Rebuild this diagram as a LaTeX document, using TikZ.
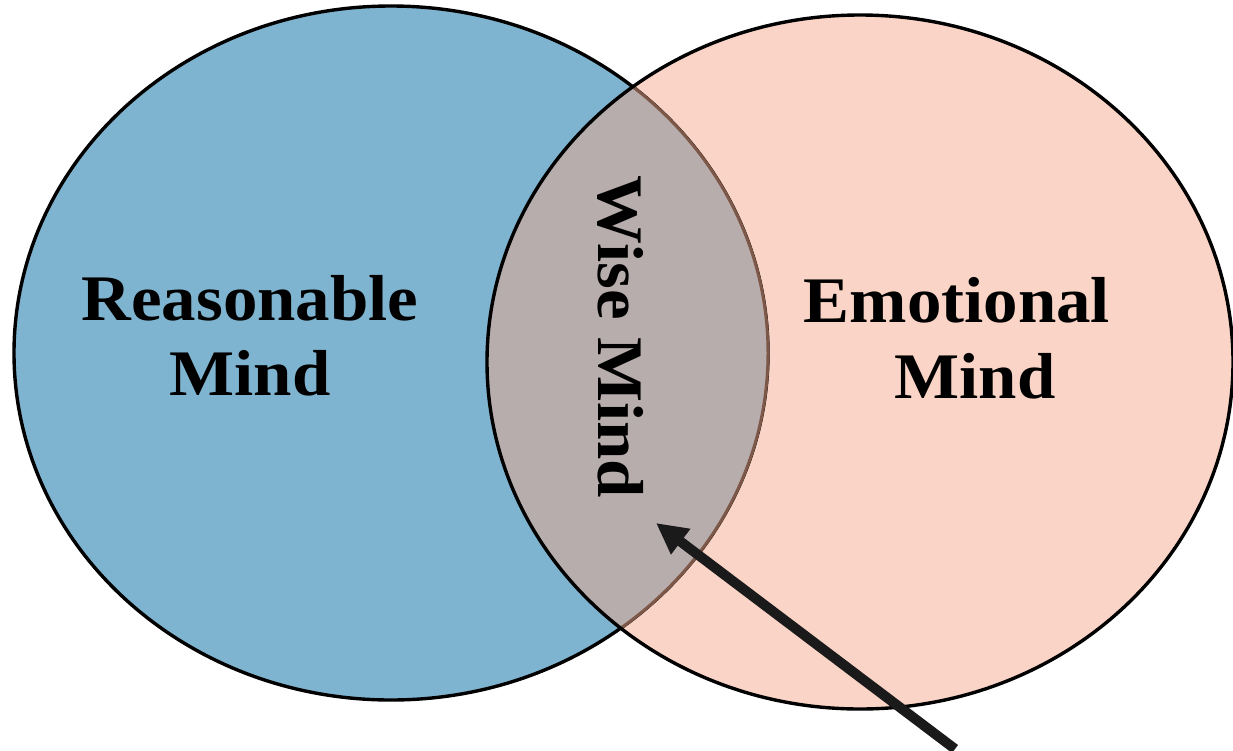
\documentclass[tikz,border=0pt]{standalone}
\usepackage{fontspec}
\setmainfont{Liberation Serif}
\usetikzlibrary{arrows.meta}
\definecolor{blueM}{RGB}{127,180,208}
\definecolor{pinkM}{RGB}{250,212,198}
\definecolor{grayM}{RGB}{184,173,173}
\definecolor{brownM}{RGB}{125,88,72}
\definecolor{arrowM}{RGB}{26,26,26}
\newcommand{\widenlbl}[1]{\scalebox{1.06}[1]{#1}}
\tikzset{
  lbl/.style={font=\bfseries\fontsize{65}{75}\selectfont, inner sep=0pt, anchor=base, text=black},
  rim/.style={line width=3.4pt},
}
\begin{document}
\begin{tikzpicture}[x=1pt,y=-1pt]
\useasboundingbox (0,0) rectangle (1233,750);
% fills
\fill[blueM] (391,353) ellipse [x radius=377, y radius=347];
\fill[pinkM] (860,362) ellipse [x radius=373, y radius=347];
\draw[rim,black] (391,353) ellipse [x radius=377, y radius=347];
\begin{scope}
  \clip (860,362) ellipse [x radius=373, y radius=347];
  \fill[grayM] (391,353) ellipse [x radius=377, y radius=347];
  \draw[line width=3pt,brownM] (391,353) ellipse [x radius=377, y radius=347];
\end{scope}
\draw[rim,black] (860,362) ellipse [x radius=373, y radius=347];
% labels
\node[lbl] (r1) at (250,320) {\widenlbl{Reasonable}};
\node[lbl] (r2) at (250,395) {\widenlbl{Mind}};
\node[lbl] (e1) at (957,322) {\widenlbl{Emotional}};
\node[lbl] (e2) at (975,398) {\widenlbl{Mind}};
\node[lbl, rotate=-90] (w) at (598,337) {\widenlbl{Wise Mind}};
% arrow
\coordinate (tail) at (955,749);
\coordinate (tip) at (656,523);
\draw[line width=10pt, arrowM, -{Triangle[length=31pt,width=30pt]}] (tail) -- (tip);
\end{tikzpicture}
\end{document}
